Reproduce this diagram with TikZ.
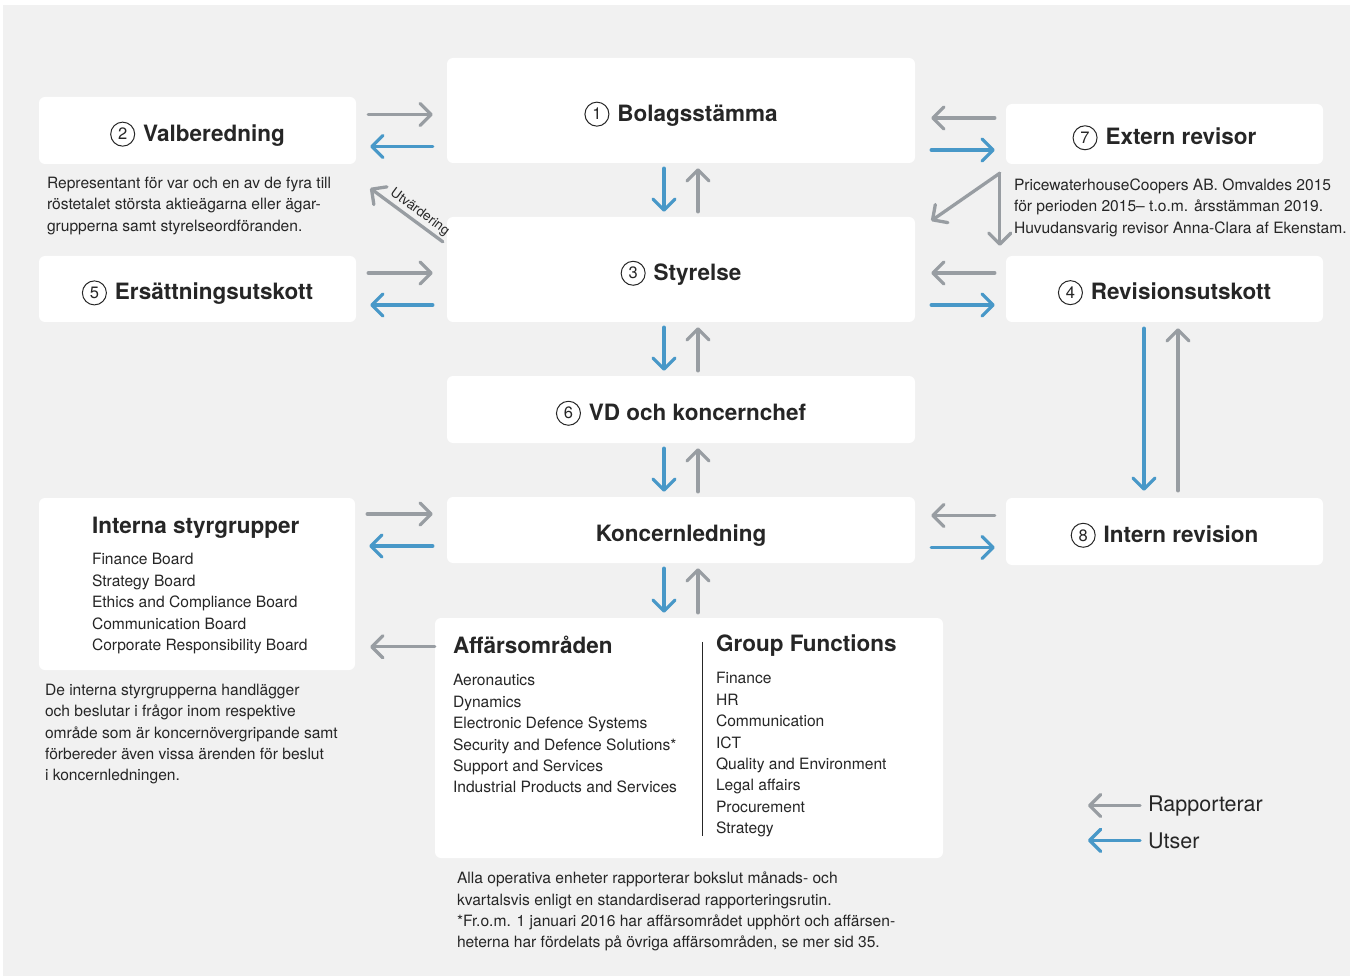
\documentclass[tikz,border=0pt]{standalone}
\usepackage{fontspec}
\setmainfont{TeX Gyre Heros}
\usetikzlibrary{arrows.meta,positioning,calc}

\definecolor{bggray}{RGB}{241,241,241}
\definecolor{repgray}{RGB}{152,157,162}
\definecolor{utsblue}{RGB}{72,152,200}
\definecolor{txtdark}{RGB}{38,38,38}

\newcommand{\titlefont}{\fontsize{22.5}{26}\selectfont\bfseries}
\newcommand{\bodyfont}{\fontsize{15.6}{21.4}\selectfont}
\newcommand{\numc}[1]{\tikz[baseline={([yshift=-1.5pt]nc.base)}]\node[draw=txtdark,circle,line width=1pt,inner sep=0pt,minimum size=24pt,text height=,text depth=,font=\fontsize{16.5}{16.5}\selectfont\mdseries](nc){#1};\hspace{8pt}}

\begin{document}
\begin{tikzpicture}[x=1pt, y=-1pt,
  box/.style={fill=white, rounded corners=6pt, inner sep=0pt, font=\titlefont, text=txtdark, text height=22pt, text depth=0pt},
  body/.style={font=\bodyfont, text=txtdark, inner sep=0pt, align=left, anchor=north west},
  head/.style={font=\titlefont, text=txtdark, inner sep=0pt, anchor=base west},
  rep/.style={draw=repgray, line width=3.3pt, line cap=round, -{Straight Barb[length=11pt,width=22pt,round]}},
  uts/.style={rep, draw=utsblue}
]
\useasboundingbox (0,0) rectangle (1363,976);
\fill[bggray] (3,5) rectangle (1350,976);

% Centre column
\node[box, minimum width=468, minimum height=105] (bol) at (681,110.5) {\numc{1}Bolagsstämma};
\node[box, minimum width=468, minimum height=105] (sty) at (681,269.5) {\numc{3}Styrelse};
\node[box, minimum width=468, minimum height=67] (vd) at (681,409.5) {\numc{6}VD och koncernchef};
\node[box, minimum width=468, minimum height=66] (kl) at (681,530) {Koncernledning};
\node[box, minimum width=508, minimum height=240] (aff) at (689,738) {};

% Left column
\node[box, minimum width=317, minimum height=67] (valb) at (197.5,130.5) {\numc{2}Valberedning};
\node[box, minimum width=317, minimum height=66] (ers) at (197.5,289) {\numc{5}Ersättningsutskott};
\node[box, minimum width=316, minimum height=172] (intstyr) at (197,584) {};

% Right column
\node[box, minimum width=317, minimum height=60] (ext) at (1164.5,134) {\numc{7}Extern revisor};
\node[box, minimum width=317, minimum height=66] (rev) at (1164.5,289) {\numc{4}Revisionsutskott};
\node[box, minimum width=317, minimum height=67] (intrev) at (1164.5,531.5) {\numc{8}Intern revision};

% Texts in the two list boxes
\node[head] (intstyrT) at ($(intstyr.north west)+(53,36)$) {Interna styrgrupper};
\node[body] (intstyrL) at ($(intstyr.north west)+(53,55.5)$) {Finance Board\\Strategy Board\\Ethics and Compliance Board\\Communication Board\\Corporate Responsibility Board};
\node[head] (affT) at ($(aff.north west)+(18,36)$) {Affärsområden};
\node[body] (affL) at ($(aff.north west)+(18,56.5)$) {Aeronautics\\Dynamics\\Electronic Defence Systems\\Security and Defence Solutions*\\Support and Services\\Industrial Products and Services};
\node[head] (gfT) at ($(aff.north west)+(281,34)$) {Group Functions};
\node[body] (gfL) at ($(aff.north west)+(281,54.5)$) {Finance\\HR\\Communication\\ICT\\Quality and Environment\\Legal affairs\\Procurement\\Strategy};
\draw[txtdark, line width=1.3pt] ($(aff.north west)+(268,24)$) -- ($(aff.north west)+(268,218)$);

% Notes
\node[body] (valbN) at ($(valb.south west)+(8,12.5)$) {Representant för var och en av de fyra till\\röstetalet största aktieägarna eller ägar-\\grupperna samt styrelseordföranden.};
\node[body] (extN) at ($(ext.south west)+(8,14.5)$) {PricewaterhouseCoopers AB. Omvaldes 2015\\för perioden 2015– t.o.m. årsstämman 2019.\\Huvudansvarig revisor Anna-Clara af Ekenstam.};
\node[body] (intstyrN) at ($(intstyr.south west)+(6,13.5)$) {De interna styrgrupperna handlägger\\och beslutar i frågor inom respektive\\område som är koncernövergripande samt\\förbereder även vissa ärenden för beslut\\i koncernledningen.};
\node[body] (affN) at ($(aff.south west)+(22,13.5)$) {Alla operativa enheter rapporterar bokslut månads- och\\kvartalsvis enligt en standardiserad rapporteringsrutin.\\*Fr.o.m. 1 januari 2016 har affärsområdet upphört och affärsen-\\heterna har fördelats på övriga affärsområden, se mer sid 35.};

% Left pairs: gray reports right, blue appoints left
\foreach \a/\b/\c in {valb/bol/valb, ers/sty/ers, intstyr/kl/kl}{
  \draw[rep] ($(\a.east |- \c.west)+(12,-16)$) -- ($(\c.west -| \b.west)+(-14,-16)$);
  \draw[uts] ($(\c.west -| \b.west)+(-14,16)$) -- ($(\a.east |- \c.west)+(14,16)$);
}
% Right pairs
\foreach \a/\b in {ext/bol, rev/sty, intrev/kl}{
  \draw[rep] ($(\a.west)+(-11,-16)$) -- ($(\a.west -| \b.east)+(16,-16)$);
  \draw[uts] ($(\a.west -| \b.east)+(16,16)$) -- ($(\a.west)+(-11,16)$);
}
% Vertical pairs in the centre column
\foreach \a/\b in {bol/sty, sty/vd, vd/kl, kl/aff}{
  \draw[uts] ($(\a.south)+(-17,5)$) -- ($(\b.north -| \a.south)+(-17,-5)$);
  \draw[rep] ($(\b.north -| \a.south)+(17,-5)$) -- ($(\a.south)+(17,5)$);
}
\draw[uts] ($(rev.south)+(-20.5,6)$) -- ($(intrev.north)+(-20.5,-7)$);
\draw[rep] ($(intrev.north)+(13.5,-7)$) -- ($(rev.south)+(13.5,6)$);
\draw[rep] ($(aff.north west)+(0,29)$) -- ($(aff.north west -| intstyr.east)+(15,29)$);

% Evaluation arrow
\coordinate (utvtip) at ($(valb.south east)+(14,24)$);
\draw[rep] ($(sty.north west)+(-4,25)$) -- node[pos=0.4, sloped, above=1pt, inner sep=1pt, text=txtdark, font=\fontsize{13.5}{13.5}\selectfont] (utvL) {Utvärdering} (utvtip);

% Auditor arrows
\coordinate (extc) at ($(ext.south west)+(-6,9)$);
\coordinate (extd1) at ($(sty.north east)+(16,4)$);
\coordinate (extd2) at ($(rev.north west)+(-6,-10)$);
\draw[rep] (extc) -- (extd1);
\draw[rep] (extc) -- (extd2);

% Legend
\node[anchor=base west, inner sep=0pt, text=txtdark, font=\fontsize{21.5}{24}\selectfont] (legrep) at (1148,811) {Rapporterar};
\node[anchor=base west, inner sep=0pt, text=txtdark, font=\fontsize{21.5}{24}\selectfont] (leguts) at (1148,848) {Utser};
\draw[rep] ($(legrep.west)+(-8,0)$) -- ++(-52,0);
\draw[uts] ($(leguts.west)+(-8,0)$) -- ++(-52,0);
\end{tikzpicture}
\end{document}
